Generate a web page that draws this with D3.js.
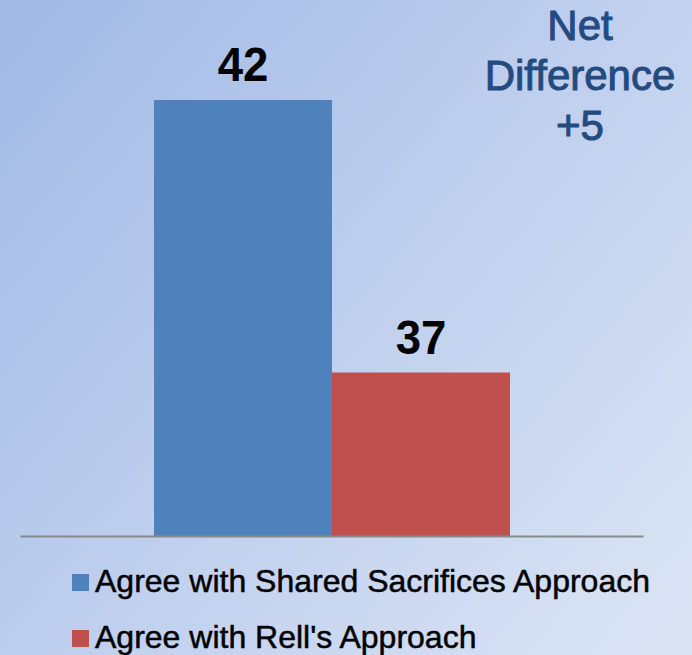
<!DOCTYPE html>
<html>
<head>
<meta charset="utf-8">
<script src="https://cdn.jsdelivr.net/npm/d3@7"></script>
<style>
  html, body { margin: 0; padding: 0; background: #c4d3ee; }
  svg { display: block; }
  text { font-family: "Liberation Sans", Arial, Helvetica, sans-serif; }
</style>
</head>
<body>
<script>
const categories = ["Agree with Shared Sacrifices Approach", "Agree with Rell's Approach"];
const values = [42, 37];
const colors = ["#4f81bd", "#c0504d"];
const noteLines = ["Net", "Difference", "+5"];

const W = 692, H = 655;
const svg = d3.select("body").append("svg").attr("width", W).attr("height", H);

const defs = svg.append("defs");
const grad = defs.append("linearGradient").attr("id", "bg")
  .attr("x1", "0").attr("y1", "0.1").attr("x2", "1").attr("y2", "0.9");
grad.append("stop").attr("offset", "0").attr("stop-color", "#a3bbe6");
grad.append("stop").attr("offset", "0.5").attr("stop-color", "#bfcfee");
grad.append("stop").attr("offset", "1").attr("stop-color", "#d9e3f4");
svg.append("rect").attr("width", W).attr("height", H).attr("fill", "url(#bg)");

const baseY = 536;
const x = d3.scaleBand().domain(categories).range([154, 510]).padding(0);
const y = d3.scaleLinear().domain([34, 42]).range([baseY, 100]);

svg.selectAll("rect.bar").data(categories).enter().append("rect")
  .attr("class", "bar")
  .attr("x", d => x(d))
  .attr("width", x.bandwidth())
  .attr("y", (d, i) => y(values[i]))
  .attr("height", (d, i) => baseY - y(values[i]))
  .attr("fill", (d, i) => colors[i]);

svg.selectAll("text.val").data(categories).enter().append("text")
  .attr("class", "val")
  .attr("transform", (d, i) => `translate(${x(d) + x.bandwidth() / 2},${y(values[i]) - 19}) scale(0.95,1)`)
  .attr("text-anchor", "middle")
  .attr("font-size", 48)
  .attr("font-weight", "bold")
  .attr("fill", "#000")
  .text((d, i) => values[i]);

// axis line
const axisG = svg.append("g").attr("transform", `translate(0,${baseY})`)
  .call(d3.axisBottom(d3.scaleLinear().domain([0, 1]).range([20, 643])).ticks(0).tickSize(0).tickFormat(""));
axisG.select(".domain").attr("stroke", "#8a8a8a").attr("stroke-width", 2);

// note
svg.selectAll("text.note").data(noteLines).enter().append("text")
  .attr("class", "note")
  .attr("x", 580)
  .attr("y", (d, i) => 40 + i * 50)
  .attr("text-anchor", "middle")
  .attr("font-size", 42)
  .attr("fill", "#244b80")
  .attr("stroke", "#244b80").attr("stroke-width", 1)
  .text(d => d);

// legend
const leg = svg.selectAll("g.leg").data(categories).enter().append("g")
  .attr("class", "leg")
  .attr("transform", (d, i) => `translate(72,${574 + i * 56})`);
leg.append("rect").attr("width", 17).attr("height", 17).attr("fill", (d, i) => colors[i]);
leg.append("text").attr("x", 23).attr("y", 18).attr("font-size", 32).attr("fill", "#000")
  .attr("stroke", "#000").attr("stroke-width", 0.5)
  .text(d => d);
</script>
</body>
</html>
